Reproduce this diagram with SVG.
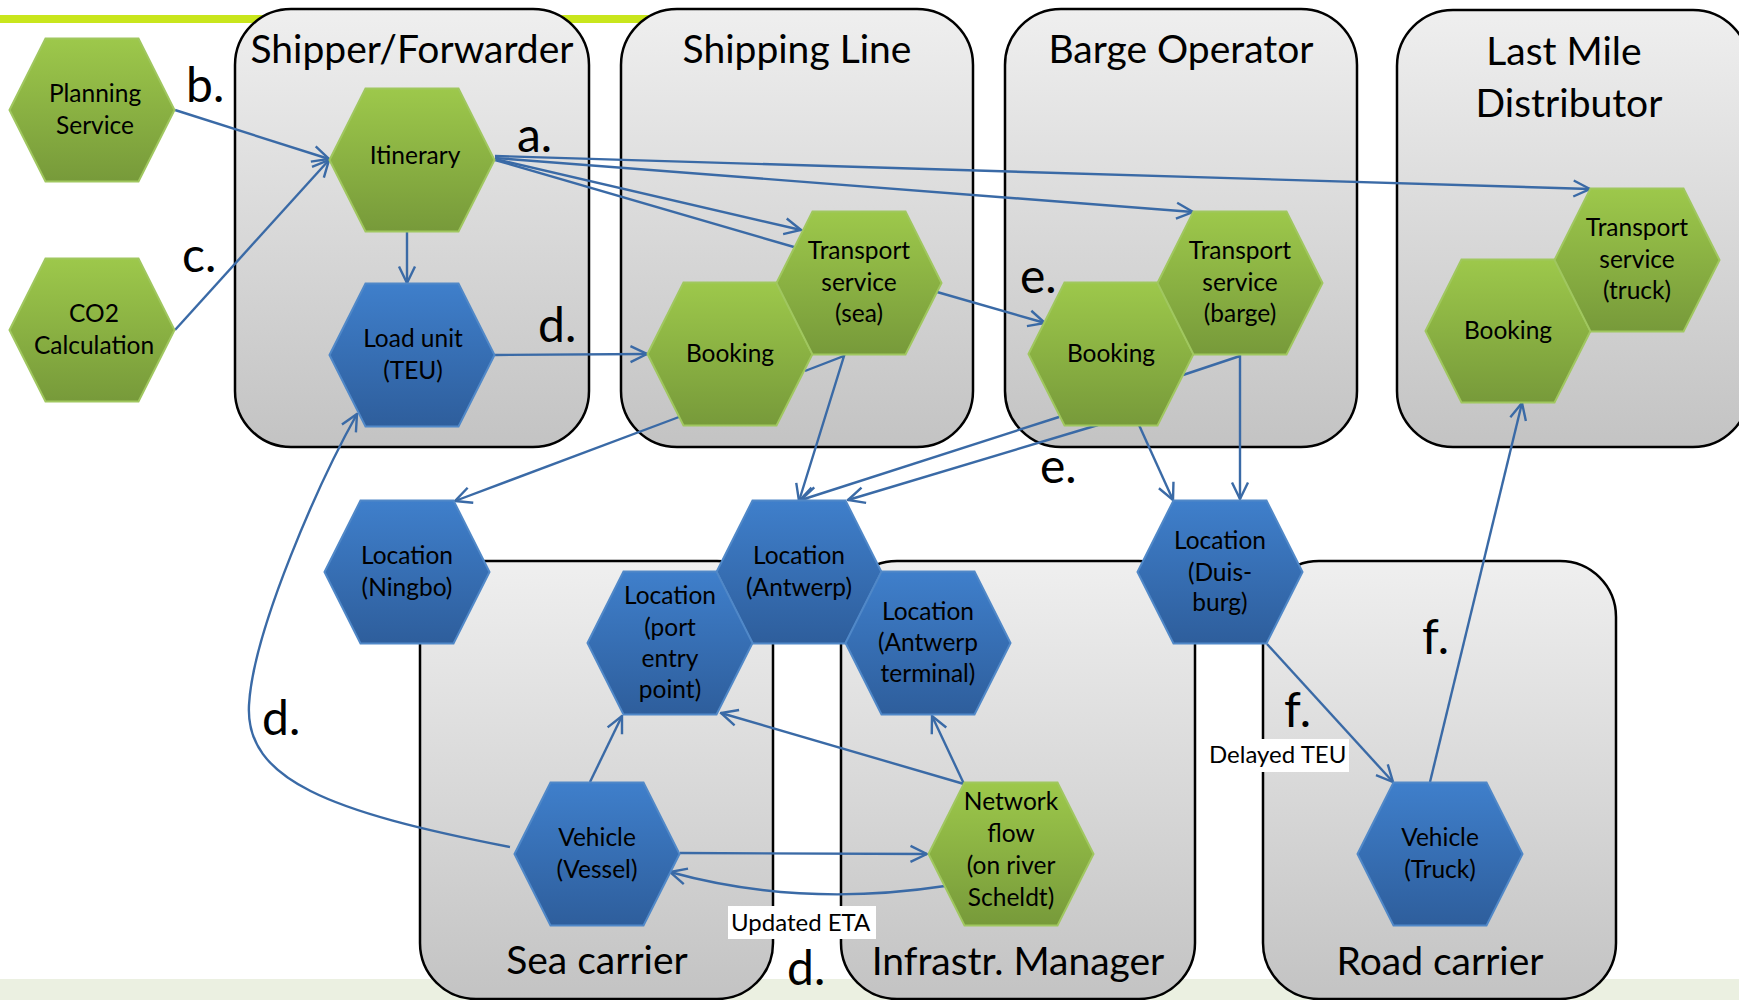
<svg xmlns="http://www.w3.org/2000/svg" xmlns:xlink="http://www.w3.org/1999/xlink" width="1739" height="1000" viewBox="0 0 1739 1000">
<style>
text{font-family:Lato,"Liberation Sans",sans-serif;fill:#000}
.title{font-size:39px;text-anchor:middle}
.lbl{font-size:48px}
.nt{font-size:24.5px;text-anchor:middle}
.small{font-size:24px}
.box{fill:url(#boxg);stroke:#000;stroke-width:2.5}
.g{fill:url(#gg);stroke:#a0c75f;stroke-width:2}
.b{fill:url(#bg);stroke:#5088c8;stroke-width:2}
.c{fill:none;stroke:#3a6aa6;stroke-width:2.4}
.a{marker-end:url(#arr)}
</style>
<defs>
<linearGradient id="boxg" x1="0" y1="0" x2="0" y2="1"><stop offset="0" stop-color="#efefef"/><stop offset="1" stop-color="#c3c3c3"/></linearGradient>
<linearGradient id="gg" x1="0" y1="0" x2="0" y2="1"><stop offset="0" stop-color="#9dc84b"/><stop offset="1" stop-color="#779a3a"/></linearGradient>
<linearGradient id="bg" x1="0" y1="0" x2="0" y2="1"><stop offset="0" stop-color="#3f7fcb"/><stop offset="1" stop-color="#2e5e9c"/></linearGradient>
<polygon id="hex" points="-82.5,0 -46.5,-71.5 46.5,-71.5 82.5,0 46.5,71.5 -46.5,71.5"/>
<marker id="arr" viewBox="0 0 20 20" refX="18.5" refY="10" markerWidth="20" markerHeight="20" markerUnits="userSpaceOnUse" orient="auto">
<path d="M2,2 L18.5,10 L2,18" fill="none" stroke="#3a6aa6" stroke-width="2.4"/>
</marker>
</defs>

<rect x="0" y="979" width="1739" height="21" fill="#ebf0e1"/>
<rect x="0" y="15" width="700" height="8" fill="#c9e61c"/>

<g id="containers">
<g id="shipper"><rect class="box" x="235" y="9" width="354" height="438" rx="56"/><text class="title" x="412" y="63">Shipper/Forwarder</text></g>
<g id="shippingline"><rect class="box" x="621" y="9" width="352" height="438" rx="56"/><text class="title" x="797" y="63">Shipping Line</text></g>
<g id="bargeoperator"><rect class="box" x="1005" y="9" width="352" height="438" rx="56"/><text class="title" x="1181" y="63">Barge Operator</text></g>
<g id="lastmile"><rect class="box" x="1397" y="10" width="352" height="437" rx="56"/><text class="title" x="1564" y="65">Last Mile</text><text class="title" x="1569" y="117">Distributor</text></g>
<g id="seacarrier"><rect class="box" x="420" y="561" width="353" height="438" rx="56"/><text class="title" x="597" y="974">Sea carrier</text></g>
<g id="infra"><rect class="box" x="841" y="561" width="354" height="438" rx="56"/><text class="title" x="1018" y="975">Infrastr. Manager</text></g>
<g id="roadcarrier"><rect class="box" x="1263" y="561" width="353" height="438" rx="56"/><text class="title" x="1440" y="975">Road carrier</text></g>
</g>

<g id="connectors">
<line class="c a" x1="175" y1="110" x2="329" y2="159"/>
<line class="c a" x1="175" y1="330" x2="329" y2="160"/>
<line class="c a" x1="407" y1="232" x2="407" y2="283"/>
<line class="c a" x1="495" y1="156" x2="1590" y2="189"/>
<line class="c a" x1="495" y1="158" x2="1193" y2="212"/>
<line class="c a" x1="495" y1="159" x2="801" y2="230"/>
<line class="c" x1="495" y1="160" x2="794" y2="247"/>
<line class="c a" x1="937" y1="292" x2="1045" y2="323"/>
<line class="c a" x1="495" y1="355" x2="647" y2="354"/>
<line class="c a" x1="679" y1="417" x2="455" y2="501"/>
<polyline class="c a" points="805,371 844,356 799,501"/>
<polyline class="c a" points="1183,375 1240,356 1240,499"/>
<line class="c a" x1="1059" y1="417" x2="801" y2="500"/>
<line class="c a" x1="1098" y1="425" x2="848" y2="500"/>
<line class="c a" x1="1139" y1="425" x2="1173" y2="500"/>
<line class="c a" x1="1267" y1="644" x2="1393" y2="782"/>
<line class="c a" x1="1430" y1="782" x2="1522" y2="403"/>
<path class="c a" d="M510,847 C330,812 245,780 249,705 C253,630 320,480 357,414"/>
<line class="c a" x1="590" y1="782" x2="622" y2="716"/>
<line class="c a" x1="964" y1="784" x2="721" y2="713"/>
<line class="c a" x1="964" y1="784" x2="932" y2="716"/>
<line class="c a" x1="680" y1="853" x2="927" y2="854"/>
<path class="c a" d="M945,886 Q800,908 670,872"/>
</g>

<g id="planning" transform="translate(92,110)"><use href="#hex" class="g"/><text class="nt" x="3" y="-8">Planning</text><text class="nt" x="3" y="24">Service</text></g>
<g id="co2" transform="translate(92,330)"><use href="#hex" class="g"/><text class="nt" x="2" y="-8">CO2</text><text class="nt" x="2" y="24">Calculation</text></g>
<g id="itinerary" transform="translate(412,160)"><use href="#hex" class="g"/><text class="nt" x="3" y="4">Itinerary</text></g>
<g id="loadunit" transform="translate(412,355)"><use href="#hex" class="b"/><text class="nt" x="1" y="-8">Load unit</text><text class="nt" x="1" y="24">(TEU)</text></g>
<g id="booking-sea" transform="translate(730,354)"><use href="#hex" class="g"/><text class="nt" y="8">Booking</text></g>
<g id="transport-sea" transform="translate(859,283)"><use href="#hex" class="g"/><text class="nt" y="-24">Transport</text><text class="nt" y="8">service</text><text class="nt" y="39">(sea)</text></g>
<g id="booking-barge" transform="translate(1111,354)"><use href="#hex" class="g"/><text class="nt" y="8">Booking</text></g>
<g id="transport-barge" transform="translate(1240,283)"><use href="#hex" class="g"/><text class="nt" y="-24">Transport</text><text class="nt" y="8">service</text><text class="nt" y="39">(barge)</text></g>
<g id="booking-truck" transform="translate(1508,331)"><use href="#hex" class="g"/><text class="nt" y="8">Booking</text></g>
<g id="transport-truck" transform="translate(1637,260)"><use href="#hex" class="g"/><text class="nt" y="-24">Transport</text><text class="nt" y="8">service</text><text class="nt" y="39">(truck)</text></g>
<g id="loc-ningbo" transform="translate(407,572)"><use href="#hex" class="b"/><text class="nt" y="-8">Location</text><text class="nt" y="24">(Ningbo)</text></g>
<g id="loc-antwerp" transform="translate(799,572)"><use href="#hex" class="b"/><text class="nt" y="-8">Location</text><text class="nt" y="24">(Antwerp)</text></g>
<g id="loc-port" transform="translate(670,643)"><use href="#hex" class="b"/><text class="nt" y="-39">Location</text><text class="nt" y="-7">(port</text><text class="nt" y="24">entry</text><text class="nt" y="55">point)</text></g>
<g id="loc-terminal" transform="translate(928,643)"><use href="#hex" class="b"/><text class="nt" y="-23">Location</text><text class="nt" y="8">(Antwerp</text><text class="nt" y="39">terminal)</text></g>
<g id="loc-duisburg" transform="translate(1220,572)"><use href="#hex" class="b"/><text class="nt" y="-23">Location</text><text class="nt" y="9">(Duis-</text><text class="nt" y="39">burg)</text></g>
<g id="vessel" transform="translate(597,854)"><use href="#hex" class="b"/><text class="nt" y="-8">Vehicle</text><text class="nt" y="24">(Vessel)</text></g>
<g id="network" transform="translate(1011,854)"><use href="#hex" class="g"/><text class="nt" y="-44">Network</text><text class="nt" y="-12">flow</text><text class="nt" y="20">(on river</text><text class="nt" y="52">Scheldt)</text></g>
<g id="truck" transform="translate(1440,854)"><use href="#hex" class="b"/><text class="nt" y="-8">Vehicle</text><text class="nt" y="24">(Truck)</text></g>

<g id="labels">
<text class="lbl" x="186" y="102">b.</text>
<text class="lbl" x="182" y="272">c.</text>
<text class="lbl" x="517" y="152">a.</text>
<text class="lbl" x="538" y="342">d.</text>
<text class="lbl" x="1020" y="293">e.</text>
<text class="lbl" x="1040" y="483">e.</text>
<text class="lbl" x="262" y="735">d.</text>
<text class="lbl" x="787" y="985">d.</text>
<text class="lbl" x="1422" y="654">f.</text>
<text class="lbl" x="1284" y="727">f.</text>
<rect x="1206" y="739" width="143" height="33" fill="#fff"/>
<text class="small" x="1209" y="763">Delayed TEU</text>
<rect x="728" y="906" width="148" height="33" fill="#fff"/>
<text class="small" x="731" y="931">Updated ETA</text>
</g>
</svg>
